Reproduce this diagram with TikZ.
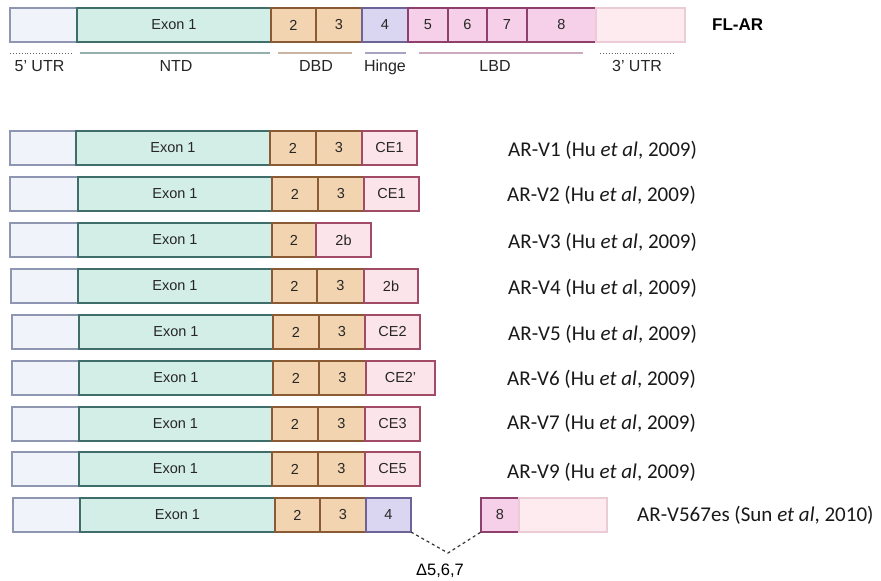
\documentclass[tikz,border=0pt]{standalone}
\usepackage{fontspec}
\setmainfont{Liberation Sans}
\newfontfamily\calfont{Carlito}
\begin{document}
\begin{tikzpicture}[x=1pt,y=-1pt,
  box/.style={draw, line width=1.2pt, anchor=north west, minimum height=34pt, inner sep=0pt, outer sep=0pt, text=black!85, font=\fontsize{14.5}{16}\selectfont},
  utr5/.style={box, fill=utrfill, draw=utrdraw},
  exon/.style={box, fill=exfill, draw=exdraw},
  dbd/.style={box, fill=dbdfill, draw=dbddraw},
  hng/.style={box, fill=hngfill, draw=hngdraw},
  lbd/.style={box, fill=lbdfill, draw=lbddraw},
  utr3/.style={box, fill=u3fill, draw=u3draw},
  ce/.style={box, fill=cefill, draw=cedraw},
  lab/.style={anchor=base west, font=\calfont\fontsize{21}{23}\selectfont, inner sep=0pt, text=black!90},
  sub/.style={anchor=base, font=\fontsize{16}{18}\selectfont, text=black!85, inner sep=0pt},
]
\definecolor{utrfill}{HTML}{F1F3FA}\definecolor{utrdraw}{HTML}{8E96B2}
\definecolor{exfill}{HTML}{D3EEE7}\definecolor{exdraw}{HTML}{3F6E6A}
\definecolor{dbdfill}{HTML}{F3D4B0}\definecolor{dbddraw}{HTML}{8A5A35}
\definecolor{hngfill}{HTML}{DAD5F0}\definecolor{hngdraw}{HTML}{6E6396}
\definecolor{lbdfill}{HTML}{F5D0E8}\definecolor{lbddraw}{HTML}{8E3F6C}
\definecolor{u3fill}{HTML}{FDEBF0}\definecolor{u3draw}{HTML}{EBCBD5}
\definecolor{cefill}{HTML}{FCE4EB}\definecolor{cedraw}{HTML}{A24B66}
\useasboundingbox[fill=white] (0,0) rectangle (881,581);
% FL-AR
\node[utr5, minimum width=67] (fu) at (10,8) {};
\node[exon, minimum width=194] (fe) at (77,8) {Exon 1};
\node[dbd, minimum width=45] (f2) at (271,8) {2};
\node[dbd, minimum width=46] (f3) at (316,8) {3};
\node[hng, minimum width=46] (f4) at (362,8) {4};
\node[lbd, minimum width=40] (f5) at (408,8) {5};
\node[lbd, minimum width=39] (f6) at (448,8) {6};
\node[lbd, minimum width=40] (f7) at (487,8) {7};
\node[lbd, minimum width=69] (f8) at (527,8) {8};
\node[utr3, minimum width=89] (f9) at (596,8) {};
\node[anchor=west, font=\bfseries\fontsize{17}{19}\selectfont, inner sep=0pt] (flar) at (712,25) {FL-AR};
% domain lines
\draw[black!60, line width=0.9pt, dotted] (10,53) -- (71,53);
\draw[exdraw!55, line width=1.2pt] (80,53) -- (270,53);
\draw[dbddraw!45, line width=1.2pt] (278,53) -- (352,53);
\draw[hngdraw!60, line width=1.2pt] (365,53) -- (406,53);
\draw[lbddraw!45, line width=1.2pt] (419,53) -- (583,53);
\draw[black!60, line width=0.9pt, dotted] (600,53) -- (673,53);
\node[sub] (t5) at (39.5,71) {5' UTR};
\node[sub] (tn) at (176,71) {NTD};
\node[sub] (td) at (316,71) {DBD};
\node[sub] (th) at (385,71) {Hinge};
\node[sub] (tl) at (495,71) {LBD};
\node[sub] (t3) at (637,71) {3' UTR};
% V1
\node[utr5, minimum width=66] (a1) at (10,131) {};
\node[exon, minimum width=194] (b1) at (76,131) {Exon 1};
\node[dbd, minimum width=46] (c1) at (270,131) {2};
\node[dbd, minimum width=46] (d1) at (316,131) {3};
\node[ce, minimum width=55] (e1) at (362,131) {CE1};
\node[lab] (l1) at (508,156) {AR-V1 (Hu \textit{et al}, 2009)};
% V2
\node[utr5, minimum width=68] (a2) at (10,177) {};
\node[exon, minimum width=194] (b2) at (78,177) {Exon 1};
\node[dbd, minimum width=46] (c2) at (272,177) {2};
\node[dbd, minimum width=46] (d2) at (318,177) {3};
\node[ce, minimum width=55] (e2) at (364,177) {CE1};
\node[lab] (l2) at (507,201) {AR-V2 (Hu \textit{et al}, 2009)};
% V3
\node[utr5, minimum width=68] (a3) at (10,223) {};
\node[exon, minimum width=194] (b3) at (78,223) {Exon 1};
\node[dbd, minimum width=44] (c3) at (272,223) {2};
\node[ce, minimum width=55] (e3) at (316,223) {2b};
\node[lab] (l3) at (508,248) {AR-V3 (Hu \textit{et al}, 2009)};
% V4
\node[utr5, minimum width=67] (a4) at (11,269) {};
\node[exon, minimum width=194] (b4) at (78,269) {Exon 1};
\node[dbd, minimum width=45] (c4) at (272,269) {2};
\node[dbd, minimum width=47] (d4) at (317,269) {3};
\node[ce, minimum width=54] (e4) at (364,269) {2b};
\node[lab] (l4) at (508,294) {AR-V4 (Hu \textit{et a}l, 2009)};
% V5
\node[utr5, minimum width=67] (a5) at (12,315) {};
\node[exon, minimum width=194] (b5) at (79,315) {Exon 1};
\node[dbd, minimum width=46] (c5) at (273,315) {2};
\node[dbd, minimum width=46] (d5) at (319,315) {3};
\node[ce, minimum width=55] (e5) at (365,315) {CE2};
\node[lab] (l5) at (508,340) {AR-V5 (Hu \textit{et al}, 2009)};
% V6
\node[utr5, minimum width=67] (a6) at (12,361) {};
\node[exon, minimum width=194] (b6) at (79,361) {Exon 1};
\node[dbd, minimum width=46] (c6) at (273,361) {2};
\node[dbd, minimum width=47] (d6) at (319,361) {3};
\node[ce, minimum width=69] (e6) at (366,361) {CE2'};
\node[lab] (l6) at (507,385) {AR-V6 (Hu \textit{et al}, 2009)};
% V7
\node[utr5, minimum width=67] (a7) at (12,407) {};
\node[exon, minimum width=193] (b7) at (79,407) {Exon 1};
\node[dbd, minimum width=46] (c7) at (272,407) {2};
\node[dbd, minimum width=47] (d7) at (318,407) {3};
\node[ce, minimum width=55] (e7) at (365,407) {CE3};
\node[lab] (l7) at (507,429) {AR-V7 (Hu \textit{et al}, 2009)};
% V9
\node[utr5, minimum width=67] (a8) at (12,452) {};
\node[exon, minimum width=193] (b8) at (79,452) {Exon 1};
\node[dbd, minimum width=46] (c8) at (272,452) {2};
\node[dbd, minimum width=47] (d8) at (318,452) {3};
\node[ce, minimum width=55] (e8) at (365,452) {CE5};
\node[lab] (l8) at (507,478) {AR-V9 (Hu \textit{et al}, 2009)};
% V567es
\node[utr5, minimum width=67] (a9) at (13,498) {};
\node[exon, minimum width=195] (b9) at (80,498) {Exon 1};
\node[dbd, minimum width=45] (c9) at (275,498) {2};
\node[dbd, minimum width=46] (d9) at (320,498) {3};
\node[hng, minimum width=45] (e9) at (366,498) {4};
\node[lbd, minimum width=38] (f9b) at (481,498) {8};
\node[utr3, minimum width=88] (g9) at (519,498) {};
\node[lab] (l9) at (637,521) {AR-V567es (Sun \textit{et al}, 2010)};
\coordinate (dv) at (448,553);
\draw[black!80, line width=1.2pt, dash pattern=on 3pt off 3pt] (e9.south east) -- (dv) -- (f9b.south west);
\node[anchor=base, font=\fontsize{16.5}{18}\selectfont, inner sep=0pt] (del) at (440,575) {Δ5,6,7};
\end{tikzpicture}
\end{document}
